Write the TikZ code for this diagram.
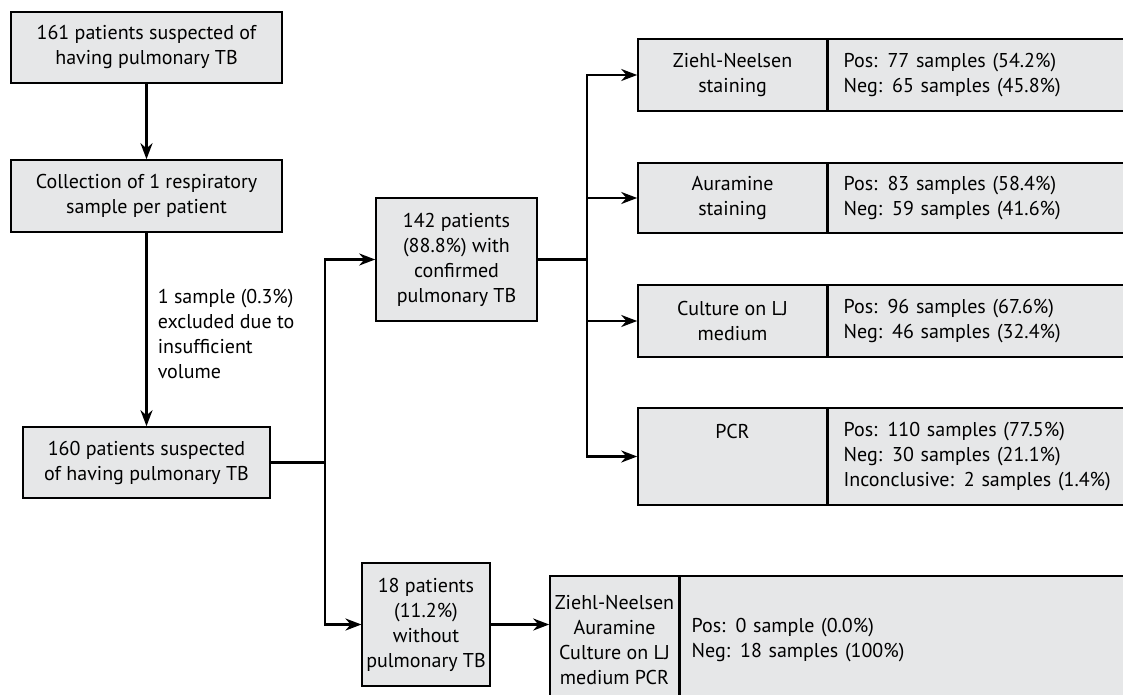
\documentclass[tikz,border=0pt]{standalone}
\usepackage{fontspec}
\setmainfont{PT Sans}
\usetikzlibrary{arrows.meta,positioning}
\definecolor{boxgray}{RGB}{230,231,232}

\begin{document}
\begin{tikzpicture}[
    x=0.5pt, y=-0.5pt,
    box/.style={draw, line width=0.8pt, fill=boxgray, align=center, inner sep=2pt, font=\fontsize{10}{12.5}\selectfont},
    res/.style={box, align=left, anchor=west, inner xsep=7.5pt},
    arr/.style={-{Stealth[length=8pt, width=6pt]}, line width=1.3pt},
    ln/.style={line width=1.3pt}
]
\useasboundingbox (0,0) rectangle (1123,695);

% left column
\node[box, minimum width=135.5pt, minimum height=35.5pt] (start) at (146.5,47.5) {161 patients suspected of\\having pulmonary TB};
\node[box, minimum width=135.5pt, minimum height=36pt] (collect) at (146.5,196) {Collection of 1 respiratory\\sample per patient};
\node[box, minimum width=123.5pt, minimum height=35.5pt] (susp) at (146.5,462.5) {160 patients suspected\\of having pulmonary TB};

% groups
\node[box, minimum width=80.5pt, minimum height=61.5pt] (conf) at (456.5,259.5) {142 patients\\(88.8\%) with\\confirmed\\pulmonary TB};
\node[box, minimum width=55pt, minimum height=61.5pt] (notb) at (426,624.5) {18 patients\\(11.2\%)\\without\\pulmonary TB};

% tests
\node[box, minimum width=94.5pt, minimum height=36pt] (zn) at (732.5,75) {Ziehl-Neelsen\\staining};
\node[res, text width=170pt, minimum height=36pt] (znres) at (zn.east) {Pos: 77 samples (54.2\%)\\Neg: 65 samples (45.8\%)};
\node[box, minimum width=94.5pt, minimum height=35pt] (aur) at (732.5,198) {Auramine\\staining};
\node[res, text width=170pt, minimum height=35pt] (aurres) at (aur.east) {Pos: 83 samples (58.4\%)\\Neg: 59 samples (41.6\%)};
\node[box, minimum width=94.5pt, minimum height=36pt] (cul) at (732.5,321) {Culture on LJ\\medium};
\node[res, text width=170pt, minimum height=36pt] (culres) at (cul.east) {Pos: 96 samples (67.6\%)\\Neg: 46 samples (32.4\%)};
\node[box, minimum width=94.5pt, minimum height=48.5pt] (pcr) at (732.5,456.5) {PCR\\~\\~};
\node[res, text width=170pt, minimum height=48.5pt] (pcrres) at (pcr.east) {Pos: 110 samples (77.5\%)\\Neg: 30 samples (21.1\%)\\Inconclusive: 2 samples (1.4\%)};
\node[box, minimum width=64.5pt, minimum height=64pt] (all) at (614.5,640) {Ziehl-Neelsen\\Auramine\\Culture on LJ\\medium PCR};
\node[res, text width=240pt, inner xsep=5.5pt, minimum height=64pt] (allres) at (all.east) {Pos: 0 sample (0.0\%)\\Neg: 18 samples (100\%)};

\coordinate (j1) at (325,462.5);
\coordinate (j2) at (587,259.5);

\draw[arr] (start) -- (collect);
\draw[arr] (collect) -- node[right, align=left, inner xsep=5pt, yshift=-2pt, font=\fontsize{10}{12.5}\selectfont] {1 sample (0.3\%)\\excluded due to\\insufficient\\volume} (susp);
\draw[ln] (susp) -- (j1);
\draw[arr] (j1) |- (conf);
\draw[arr] (j1) |- (notb);
\draw[ln] (conf) -- (j2);
\draw[arr] (j2) |- (zn);
\draw[arr] (j2) |- (aur);
\draw[arr] (j2) |- (cul);
\draw[arr] (j2) |- (pcr);
\draw[arr] (notb.east) -- (notb.east -| all.west);
\end{tikzpicture}
\end{document}
